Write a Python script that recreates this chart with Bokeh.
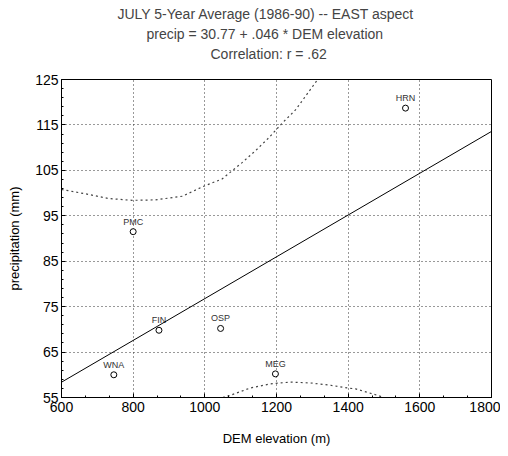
from bokeh.plotting import figure
from bokeh.models import Range1d, Title, Slope, ColumnDataSource, FixedTicker
from bokeh.core.properties import value
from bokeh.embed import file_html
from bokeh.resources import INLINE

# Station data
stations = ["WNA", "FIN", "OSP", "MEG", "PMC", "HRN"]
elev = [746, 872, 1044, 1197, 800, 1560]
precip = [60.0, 69.8, 70.2, 60.2, 91.5, 118.7]

# Regression
intercept = 30.77
slope = 0.046

# Confidence curves
upper_x = [600, 676, 732, 797, 862, 937, 997, 1048, 1104, 1141, 1179, 1216, 1253, 1290, 1315]
upper_y = [100.8, 99.7, 98.8, 98.4, 98.5, 99.3, 101.5, 103.1, 106.7, 109.3, 112.2, 115.4, 118.3, 122.3, 125.0]
lower_x = [1050, 1072, 1127, 1183, 1239, 1295, 1351, 1397, 1421, 1481, 1499]
lower_y = [55.0, 55.5, 57.1, 58.0, 58.4, 58.2, 57.7, 57.1, 56.9, 55.5, 55.0]

x_ticks = [600, 800, 1000, 1200, 1400, 1600, 1800]
y_ticks = [55, 65, 75, 85, 95, 105, 115, 125]
x_minor = [600 + i * 200 / 3 for i in range(19)]
y_minor = list(range(55, 126, 2))

FONT = "Liberation Sans"

p = figure(width=500, height=448, output_backend="svg", toolbar_location=None,
           x_range=Range1d(600, 1800), y_range=Range1d(55, 125),
           min_border_left=61, min_border_right=9, min_border_top=79, min_border_bottom=45)
p.background_fill_color = "white"
p.border_fill_color = "white"
p.outline_line_color = "black"
p.outline_line_width = 1

p.title = Title(text="JULY 5-Year Average (1986-90) -- EAST aspect", align="left", offset=56,
                text_font=FONT, text_font_size="14px", text_font_style="normal", standoff=2)
p.add_layout(Title(text=" ", align="center", text_font=FONT,
                   text_font_size="13px", text_font_style="normal", standoff=0), "above")
p.add_layout(Title(text="Correlation: r = .62", align="left", offset=149, text_font=FONT,
                   text_font_size="14px", text_font_style="normal", standoff=2), "above")
p.add_layout(Title(text="precip = 30.77 + .046 * DEM elevation", align="left", offset=85, text_font=FONT,
                   text_font_size="14px", text_font_style="normal", standoff=2), "above")

# Axes
xax = p.xaxis[0]
yax = p.yaxis[0]
xax.ticker = FixedTicker(ticks=x_ticks, minor_ticks=x_minor)
yax.ticker = FixedTicker(ticks=y_ticks, minor_ticks=y_minor)
for ax in (xax, yax):
    ax.axis_line_color = "black"
    ax.major_tick_in = 4
    ax.major_tick_out = 0
    ax.minor_tick_in = 2
    ax.minor_tick_out = 0
    ax.major_tick_line_color = "black"
    ax.minor_tick_line_color = "black"
    ax.major_label_text_font = FONT
    ax.major_label_text_font_size = "14px"
    ax.major_label_text_color = "black"
    ax.axis_label_text_font = FONT
    ax.axis_label_text_font_size = "13px"
    ax.axis_label_text_font_style = "normal"
    ax.axis_label_text_color = "black"
xax.axis_label = "DEM elevation (m)"
yax.axis_label = "precipitation (mm)"
xax.major_label_standoff = 4
yax.major_label_standoff = 3
xax.axis_label_standoff = 16
yax.axis_label_standoff = 10

# Grid
for g in (p.xgrid[0], p.ygrid[0]):
    g.grid_line_color = "#333333"
    g.grid_line_dash = "1 3"
    g.grid_line_width = 1

# Regression line
p.add_layout(Slope(gradient=slope, y_intercept=intercept, line_color="black", line_width=1))

# Confidence curves
p.line(upper_x, upper_y, line_color="#444444", line_dash="2 3", line_width=1.2)
p.line(lower_x, lower_y, line_color="#444444", line_dash="2 3", line_width=1.2)

# Points
src = ColumnDataSource(dict(x=elev, y=precip, name=stations))
p.scatter("x", "y", source=src, marker="circle", size=6, fill_color="white",
          line_color="black", line_width=1)
p.text("x", "y", text="name", source=src, text_font=value(FONT), text_font_size="9px",
       text_color="#333333", text_align="center", text_baseline="bottom", y_offset=-5)

open("out.html", "w").write(file_html(p, INLINE))
